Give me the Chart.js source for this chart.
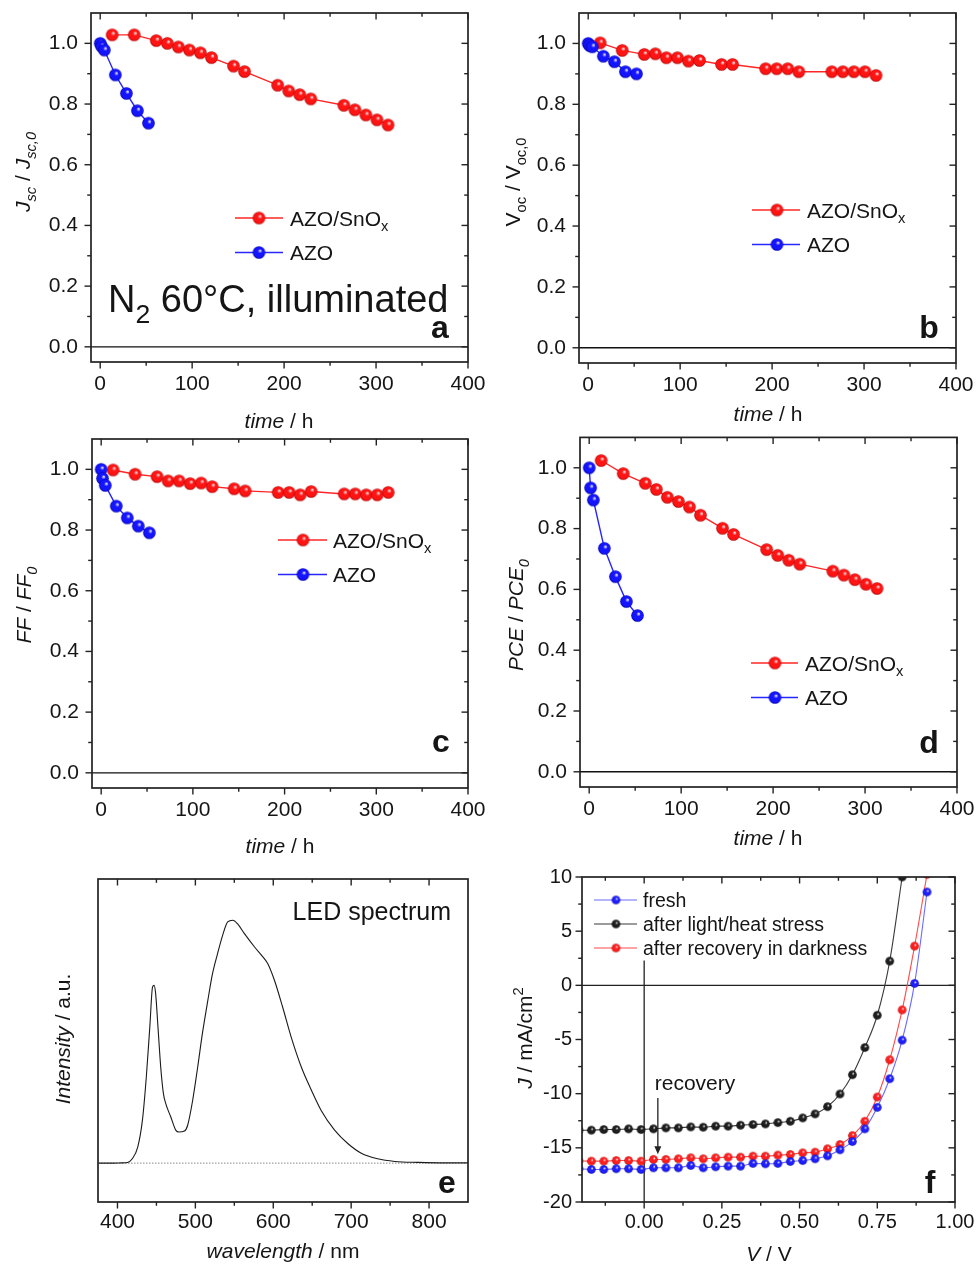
<!DOCTYPE html>
<html>
<head>
<meta charset="utf-8">
<title>AZO / AZO-SnOx stability</title>
<script src="https://cdn.jsdelivr.net/npm/chart.js@4.4.1/dist/chart.umd.min.js"></script>
<style>
  html, body { margin: 0; padding: 0; background: #fff; }
  #fig { position: relative; width: 979px; height: 1264px; overflow: hidden; }
  #fig canvas { position: absolute; }
</style>
</head>
<body>
<div id="fig">
  <canvas id="pa" width="490" height="430" style="left:0;top:0;width:490px;height:430px"></canvas>
  <canvas id="pb" width="489" height="430" style="left:490px;top:0;width:489px;height:430px"></canvas>
  <canvas id="pc" width="490" height="430" style="left:0;top:430px;width:490px;height:430px"></canvas>
  <canvas id="pd" width="489" height="430" style="left:490px;top:430px;width:489px;height:430px"></canvas>
  <canvas id="pe" width="490" height="404" style="left:0;top:860px;width:490px;height:404px"></canvas>
  <canvas id="pf" width="489" height="404" style="left:490px;top:860px;width:489px;height:404px"></canvas>
</div>
<script>
// ---------- data: normalised parameters vs. ageing time ----------
const TIME_SNOX = [13, 37, 61, 73, 85, 97, 109, 121, 145, 157, 193, 205, 217, 229, 265, 277, 289, 301, 313];
const TIME_AZO  = [0, 1.5, 4.5, 16.5, 28.5, 40.5, 52.5];

const JSC_SNOX = [1.028, 1.028, 1.009, 1.0, 0.988, 0.978, 0.969, 0.953, 0.925, 0.907, 0.862, 0.843, 0.831, 0.817, 0.796, 0.781, 0.764, 0.748, 0.731];
const JSC_AZO  = [1.0, 0.99, 0.978, 0.896, 0.835, 0.778, 0.737];

const VOC_SNOX = [1.002, 0.977, 0.964, 0.966, 0.953, 0.953, 0.942, 0.944, 0.931, 0.931, 0.917, 0.917, 0.917, 0.907, 0.907, 0.907, 0.907, 0.907, 0.895];
const VOC_AZO  = [1.0, 0.993, 0.989, 0.958, 0.94, 0.907, 0.9];

const FF_SNOX  = [0.998, 0.984, 0.976, 0.962, 0.962, 0.953, 0.955, 0.943, 0.936, 0.929, 0.924, 0.924, 0.916, 0.927, 0.919, 0.919, 0.916, 0.916, 0.924];
const FF_AZO   = [1.0, 0.97, 0.947, 0.879, 0.84, 0.813, 0.791];

const PCE_SNOX = [1.024, 0.981, 0.949, 0.929, 0.903, 0.889, 0.871, 0.844, 0.801, 0.781, 0.731, 0.712, 0.696, 0.683, 0.66, 0.647, 0.632, 0.617, 0.603];
const PCE_AZO  = [1.0, 0.934, 0.894, 0.735, 0.642, 0.56, 0.514];

const TIME_TICKS  = [0, 100, 200, 300, 400];
const RATIO_TICKS = [0, 0.2, 0.4, 0.6, 0.8, 1.0];

// ---------- data: LED emission spectrum ----------
const WAVELENGTH = [376, 395, 405, 413, 419, 426, 432, 437, 441.5, 445, 447, 449, 452, 455.5, 459, 462, 468.5, 475, 479, 486,
                    490, 496.5, 503, 509, 516, 522, 528.5, 535, 541.5, 548, 554, 563, 576, 588.5, 593, 601.5, 612, 623, 636, 649,
                    661.5, 679, 696, 713, 734, 756, 786, 820, 850];
const INTENSITY  = [0, 0, 0.001, 0.003, 0.018, 0.066, 0.176, 0.354, 0.56, 0.725, 0.732, 0.698, 0.56, 0.396, 0.286, 0.245, 0.19, 0.135, 0.128, 0.132,
                    0.155, 0.258, 0.396, 0.533, 0.67, 0.78, 0.863, 0.938, 0.993, 1.0, 0.986, 0.945, 0.89, 0.842, 0.821, 0.753, 0.643, 0.519, 0.396, 0.3,
                    0.217, 0.135, 0.08, 0.041, 0.018, 0.007, 0.003, 0.001, 0.001];
const WL_TICKS = [400, 500, 600, 700, 800];

// ---------- data: J-V curves ----------
const VOLTAGE = [-0.21, -0.17, -0.13, -0.09, -0.05, -0.01, 0.03, 0.07, 0.11, 0.15, 0.19, 0.23, 0.27, 0.31, 0.35,
                 0.39, 0.43, 0.47, 0.51, 0.55, 0.59, 0.63, 0.67, 0.71, 0.75, 0.79, 0.83, 0.87, 0.91];
const J_FRESH     = [-16.93, -17.0, -17.0, -16.93, -16.93, -17.0, -16.84, -16.84, -16.84, -16.63, -16.84, -16.75, -16.69, -16.69, -16.44,
                     -16.47, -16.44, -16.26, -16.17, -16.01, -15.74, -15.18, -14.42, -13.25, -11.26, -8.62, -5.06, 0.18, 8.62];
const J_STRESSED  = [-13.37, -13.37, -13.31, -13.31, -13.25, -13.31, -13.25, -13.16, -13.16, -13.07, -13.1, -13.0, -13.0, -12.91, -12.85,
                     -12.79, -12.67, -12.55, -12.24, -11.87, -11.2, -10.03, -8.25, -5.74, -2.76, 2.24, 10.0];
const J_RECOVERED = [-16.2, -16.23, -16.23, -16.17, -16.17, -16.23, -16.07, -16.07, -16.01, -15.92, -16.01, -15.92, -15.86, -15.86, -15.77,
                     -15.77, -15.67, -15.61, -15.46, -15.4, -15.09, -14.69, -13.87, -12.55, -10.31, -6.87, -2.27, 3.62, 10.25];
const V_TICKS = [0, 0.25, 0.5, 0.75, 1.0];
const J_TICKS = [-20, -15, -10, -5, 0, 5, 10];

// ---------- styling helpers ----------
const FONT = '"Liberation Sans", Arial, Helvetica, sans-serif';
const INK = '#151515';
Chart.defaults.font.family = FONT;

function font(px, italic, bold) {
  return (italic ? 'italic ' : '') + (bold ? 'bold ' : '') + px + 'px ' + FONT;
}

// shaded ball marker, used as a Chart.js image pointStyle
function sphere(base, dark, light, r) {
  const c = document.createElement('canvas');
  const s = Math.ceil(r * 2 + 2);
  c.width = c.height = s;
  const g = c.getContext('2d');
  const m = s / 2;
  const grd = g.createRadialGradient(m + r * 0.22, m - r * 0.3, r * 0.05, m, m, r);
  grd.addColorStop(0, light);
  grd.addColorStop(0.32, base);
  grd.addColorStop(0.8, base);
  grd.addColorStop(1, dark);
  g.fillStyle = grd;
  g.beginPath();
  g.arc(m, m, r, 0, Math.PI * 2);
  g.fill();
  return c;
}

const RED  = { line: '#ff2626', marker: sphere('#ff1414', '#b00000', '#ffe6e6', 6.3) };
const BLUE = { line: '#2626ff', marker: sphere('#1414ff', '#0000a8', '#e6e6ff', 6.3) };
const F_BLUE  = { line: '#6a6aff', marker: sphere('#1e1eff', '#0000a0', '#eeeeff', 4.3) };
const F_RED   = { line: '#ff4a4a', marker: sphere('#ff1e1e', '#b00000', '#ffeeee', 4.3) };
const F_BLACK = { line: '#3a3a3a', marker: sphere('#1e1e1e', '#000000', '#e8e8e8', 4.3) };

// rich text: segments with italic / subscript / superscript parts
function drawRich(ctx, segs, x, y, px, align, rot, bold) {
  ctx.save();
  ctx.translate(x, y);
  if (rot) ctx.rotate(rot);
  const parts = [];
  let w = 0;
  segs.forEach(s => {
    const small = s.sub || s.sup;
    const sz = small ? px * 0.7 : px;
    ctx.font = font(sz, s.i, bold);
    parts.push({ s, sz, x: w, dy: s.sub ? px * 0.28 : (s.sup ? -px * 0.42 : 0) });
    w += ctx.measureText(s.t).width;
  });
  const x0 = align === 'center' ? -w / 2 : (align === 'right' ? -w : 0);
  ctx.fillStyle = INK;
  ctx.textAlign = 'left';
  ctx.textBaseline = 'alphabetic';
  parts.forEach(p => {
    ctx.font = font(p.sz, p.s.i, bold);
    ctx.fillText(p.s.t, x0 + p.x, p.dy);
  });
  ctx.restore();
}

function midpoints(vals) {
  const out = [];
  for (let i = 0; i < vals.length - 1; i++) out.push((vals[i] + vals[i + 1]) / 2);
  return out;
}

// ---------- decoration plugin: frame, ticks, reference lines, labels, legend ----------
const DECO = {};
const decoPlugin = {
  id: 'deco',
  beforeDatasetsDraw(chart) {
    const d = DECO[chart.canvas.id];
    if (!d) return;
    const { ctx, chartArea: a } = chart;
    const xs = chart.scales.x, ys = chart.scales.y;
    ctx.save();
    ctx.beginPath();
    ctx.rect(a.left, a.top, a.right - a.left, a.bottom - a.top);
    ctx.clip();
    (d.hlines || []).forEach(h => {
      const py = ys.getPixelForValue(h.y);
      ctx.strokeStyle = h.color; ctx.lineWidth = h.width; ctx.setLineDash(h.dash || []);
      ctx.beginPath(); ctx.moveTo(a.left, py); ctx.lineTo(a.right, py); ctx.stroke();
    });
    (d.vlines || []).forEach(v => {
      const px = xs.getPixelForValue(v.x);
      ctx.strokeStyle = v.color; ctx.lineWidth = v.width; ctx.setLineDash([]);
      ctx.beginPath(); ctx.moveTo(px, ys.getPixelForValue(v.y1)); ctx.lineTo(px, ys.getPixelForValue(v.y2)); ctx.stroke();
    });
    ctx.restore();
  },
  afterDraw(chart) {
    const d = DECO[chart.canvas.id];
    if (!d) return;
    const { ctx, chartArea: a } = chart;
    const xs = chart.scales.x, ys = chart.scales.y;
    ctx.save();
    ctx.setLineDash([]);
    ctx.strokeStyle = '#222';

    // tick marks: bottom/left point out, top/right point in
    ctx.lineWidth = 1.4;
    const tk = d.ticks;
    const tickSet = (vals, len, axis) => {
      vals.forEach(v => {
        if (axis === 'x') {
          const p = xs.getPixelForValue(v);
          if (tk.bottom) { ctx.beginPath(); ctx.moveTo(p, a.bottom); ctx.lineTo(p, a.bottom + len); ctx.stroke(); }
          if (tk.top)    { ctx.beginPath(); ctx.moveTo(p, a.top);    ctx.lineTo(p, a.top + len);    ctx.stroke(); }
        } else {
          const p = ys.getPixelForValue(v);
          if (tk.left)  { ctx.beginPath(); ctx.moveTo(a.left, p);  ctx.lineTo(a.left - len, p);  ctx.stroke(); }
          if (tk.right) { ctx.beginPath(); ctx.moveTo(a.right, p); ctx.lineTo(a.right - len, p); ctx.stroke(); }
        }
      });
    };
    tickSet(tk.xMajor, 6.5, 'x');
    tickSet(tk.xMinor, 3.8, 'x');
    if (tk.yMajor) { tickSet(tk.yMajor, 6.5, 'y'); tickSet(tk.yMinor, 3.8, 'y'); }

    // frame
    ctx.lineWidth = 1.7;
    ctx.strokeRect(a.left, a.top, a.right - a.left, a.bottom - a.top);

    // arrow
    if (d.arrow) {
      const px = xs.getPixelForValue(d.arrow.x);
      const y1 = ys.getPixelForValue(d.arrow.from), y2 = ys.getPixelForValue(d.arrow.to);
      ctx.strokeStyle = '#222'; ctx.fillStyle = '#222'; ctx.lineWidth = 1.3;
      ctx.beginPath(); ctx.moveTo(px, y1); ctx.lineTo(px, y2 - 6); ctx.stroke();
      ctx.beginPath(); ctx.moveTo(px - 3.5, y2 - 8); ctx.lineTo(px + 3.5, y2 - 8); ctx.lineTo(px, y2); ctx.closePath(); ctx.fill();
    }

    // legend
    if (d.legend) {
      const L = d.legend;
      L.items.forEach((it, k) => {
        const y = L.y + k * L.dy;
        ctx.strokeStyle = it.style.line; ctx.lineWidth = L.lw;
        ctx.beginPath(); ctx.moveTo(L.x1, y); ctx.lineTo(L.x2, y); ctx.stroke();
        const m = it.style.marker;
        ctx.drawImage(m, L.mx - m.width / 2, y - m.height / 2);
        drawRich(ctx, it.segs, L.tx, y + L.px * 0.36, L.px, 'left', 0, false);
      });
    }

    // titles and labels
    (d.texts || []).forEach(t => drawRich(ctx, t.segs, t.x, t.y, t.px, t.align || 'left', t.rot || 0, t.bold));
    ctx.restore();
  }
};
Chart.register(decoPlugin);

// ---------- chart builders ----------
function axis(o) {
  return {
    type: 'linear', min: o.min, max: o.max,
    grid: { display: false, drawTicks: false },
    border: { display: false },
    ticks: {
      display: o.show !== false, padding: o.pad, color: INK, font: { size: o.fs || 21 },
      autoSkip: false, maxRotation: 0, minRotation: 0, includeBounds: false,
      callback: o.fmt
    },
    afterBuildTicks: s => { s.ticks = o.ticks.map(v => ({ value: v })); },
    afterFit: s => {
      if (o.dir === 'x') s.height = o.size; else s.width = o.size;
      // the plot box is placed by the layout padding alone
      s.paddingTop = s.paddingBottom = s.paddingLeft = s.paddingRight = 0;
    }
  };
}

function baseOptions(box, scales) {
  return {
    responsive: false, animation: false, devicePixelRatio: 1, events: [],
    layout: { padding: { top: box.top, right: box.right, left: 0, bottom: 0 } },
    plugins: { legend: { display: false }, tooltip: { enabled: false } },
    scales
  };
}

function series(xv, yv, style, r, lw, smooth) {
  return {
    data: xv.map((x, i) => ({ x, y: yv[i] })),
    showLine: true,
    borderColor: style.line, borderWidth: lw,
    backgroundColor: style.line,
    pointStyle: style.marker, pointRadius: r, pointHoverRadius: r,
    cubicInterpolationMode: smooth ? 'monotone' : 'default',
    tension: 0
  };
}

const T = (t, extra) => Object.assign({ t }, extra || {});
const SNOX_LABEL = [T('AZO/SnO'), T('x', { sub: true })];
const AZO_LABEL = [T('AZO')];

function timePanel(id, snox, azo, box, deco) {
  DECO[id] = Object.assign({
    ticks: { xMajor: TIME_TICKS, xMinor: midpoints(TIME_TICKS), yMajor: RATIO_TICKS, yMinor: midpoints(RATIO_TICKS),
             bottom: true, top: true, left: true, right: true },
    hlines: [{ y: 0, color: '#111', width: 1.4 }]
  }, deco);
  new Chart(document.getElementById(id), {
    type: 'scatter',
    data: { datasets: [
      series(TIME_AZO, azo, BLUE, 6, 1.4, false),
      series(TIME_SNOX, snox, RED, 6, 1.4, false)
    ] },
    options: baseOptions(box, {
      x: axis({ dir: 'x', min: -10, max: 400, ticks: TIME_TICKS, fmt: v => String(v), size: box.xh, pad: box.xpad }),
      y: axis({ dir: 'y', min: -0.05, max: 1.1, ticks: RATIO_TICKS, fmt: v => v.toFixed(1), size: box.yw, pad: 13 })
    })
  });
}

function timeLegend(mx, y, x1, x2, tx) {
  return { x1, x2, mx, y, dy: 34.5, tx, px: 21, lw: 1.4,
           items: [{ segs: SNOX_LABEL, style: RED }, { segs: AZO_LABEL, style: BLUE }] };
}
const TIME_TITLE = [T('time', { i: true }), T(' / h')];
const UP = -Math.PI / 2;

// (a) short-circuit current density
timePanel('pa', JSC_SNOX, JSC_AZO, { top: 13, right: 22, xh: 68, yw: 91, xpad: 10 }, {
  legend: timeLegend(259, 218, 235, 283, 290),
  texts: [
    { segs: [T('J', { i: true }), T('sc', { i: true, sub: true }), T(' / '), T('J', { i: true }), T('sc,0', { i: true, sub: true })],
      x: 30, y: 172, px: 21, align: 'center', rot: UP },
    { segs: TIME_TITLE, x: 279, y: 428, px: 21, align: 'center' },
    { segs: [T('N'), T('2', { sub: true }), T(' 60°C, illuminated')], x: 108, y: 312, px: 38 },
    { segs: [T('a')], x: 440, y: 338, px: 32, align: 'center', bold: true }
  ]
});

// (b) open-circuit voltage
timePanel('pb', VOC_SNOX, VOC_AZO, { top: 13, right: 23, xh: 67, yw: 89, xpad: 10 }, {
  legend: timeLegend(287, 210, 262, 310, 317),
  texts: [
    { segs: [T('V'), T('oc', { sub: true }), T(' / '), T('V'), T('oc,0', { sub: true })],
      x: 30, y: 182, px: 21, align: 'center', rot: UP },
    { segs: TIME_TITLE, x: 278, y: 421, px: 21, align: 'center' },
    { segs: [T('b')], x: 439, y: 338, px: 32, align: 'center', bold: true }
  ]
});

// (c) fill factor
timePanel('pc', FF_SNOX, FF_AZO, { top: 9, right: 22, xh: 72, yw: 92, xpad: 10 }, {
  legend: timeLegend(303, 110, 278, 327, 333),
  texts: [
    { segs: [T('FF', { i: true }), T(' / '), T('FF', { i: true }), T('0', { i: true, sub: true })],
      x: 31, y: 175, px: 21, align: 'center', rot: UP },
    { segs: TIME_TITLE, x: 280, y: 423, px: 21, align: 'center' },
    { segs: [T('c')], x: 441, y: 322, px: 32, align: 'center', bold: true }
  ]
});

// (d) power conversion efficiency
timePanel('pd', PCE_SNOX, PCE_AZO, { top: 5, right: 22, xh: 73, yw: 90, xpad: 10 }, {
  legend: timeLegend(285, 233, 261, 308, 315),
  texts: [
    { segs: [T('PCE', { i: true }), T(' / '), T('PCE', { i: true }), T('0', { i: true, sub: true })],
      x: 33, y: 185, px: 21, align: 'center', rot: UP },
    { segs: TIME_TITLE, x: 278, y: 415, px: 21, align: 'center' },
    { segs: [T('d')], x: 439, y: 323, px: 32, align: 'center', bold: true }
  ]
});

// (e) LED spectrum
DECO.pe = {
  ticks: { xMajor: WL_TICKS, xMinor: [450, 550, 650, 750], bottom: true, top: true },
  hlines: [{ y: 0, color: '#888', width: 1, dash: [1.5, 1.5] }],
  texts: [
    { segs: [T('Intensity', { i: true }), T(' / a.u.')], x: 70, y: 179, px: 21, align: 'center', rot: UP },
    { segs: [T('wavelength', { i: true }), T(' / nm')], x: 283, y: 398, px: 21, align: 'center' },
    { segs: [T('LED spectrum')], x: 451, y: 60, px: 25, align: 'right' },
    { segs: [T('e')], x: 447, y: 333, px: 32, align: 'center', bold: true }
  ]
};
new Chart(document.getElementById('pe'), {
  type: 'scatter',
  data: { datasets: [{
    data: WAVELENGTH.map((x, i) => ({ x, y: INTENSITY[i] })),
    showLine: true, borderColor: '#1a1a1a', borderWidth: 1.1, pointRadius: 0,
    cubicInterpolationMode: 'monotone'
  }] },
  options: baseOptions({ top: 19, right: 22 }, {
    x: axis({ dir: 'x', min: 375, max: 850, ticks: WL_TICKS, fmt: v => String(v), size: 62, pad: 8 }),
    y: axis({ dir: 'y', min: -0.16, max: 1.17, ticks: [0], show: false, size: 98, pad: 0 })
  })
});

// (f) J-V curves
DECO.pf = {
  ticks: { xMajor: V_TICKS, xMinor: [-0.125, 0.125, 0.375, 0.625, 0.875], yMajor: J_TICKS, yMinor: midpoints(J_TICKS),
           bottom: true, top: true, left: true, right: true },
  hlines: [{ y: 0, color: '#222', width: 1.3 }],
  vlines: [{ x: 0, y1: 2.3, y2: -20, color: '#222', width: 1.3 }],
  arrow: { x: 0.044, from: -10.4, to: -15.6 },
  legend: { x1: 104, x2: 147, mx: 126, y: 40, dy: 24, tx: 153, px: 19.5, lw: 1.1,
            items: [{ segs: [T('fresh')], style: F_BLUE },
                    { segs: [T('after light/heat stress')], style: F_BLACK },
                    { segs: [T('after recovery in darkness')], style: F_RED }] },
  texts: [
    { segs: [T('J', { i: true }), T(' / mA/cm'), T('2', { sup: true })], x: 42, y: 178, px: 21, align: 'center', rot: UP },
    { segs: [T('V', { i: true }), T(' / V')], x: 279, y: 401, px: 21, align: 'center' },
    { segs: [T('recovery')], x: 205, y: 230, px: 21, align: 'center' },
    { segs: [T('f')], x: 440, y: 333, px: 32, align: 'center', bold: true }
  ]
};
new Chart(document.getElementById('pf'), {
  type: 'scatter',
  data: { datasets: [
    series(VOLTAGE, J_FRESH, F_BLUE, 4.3, 1.1, true),
    series(VOLTAGE, J_RECOVERED, F_RED, 4.3, 1.1, true),
    series(VOLTAGE.slice(0, J_STRESSED.length), J_STRESSED, F_BLACK, 4.3, 1.1, true)
  ] },
  options: baseOptions({ top: 17, right: 24 }, {
    x: axis({ dir: 'x', min: -0.2, max: 1.0, ticks: V_TICKS, fmt: v => v.toFixed(2), size: 62, pad: 8, fs: 20 }),
    y: axis({ dir: 'y', min: -20, max: 10, ticks: J_TICKS, fmt: v => String(v), size: 92, pad: 10, fs: 20 })
  })
});
</script>
</body>
</html>
